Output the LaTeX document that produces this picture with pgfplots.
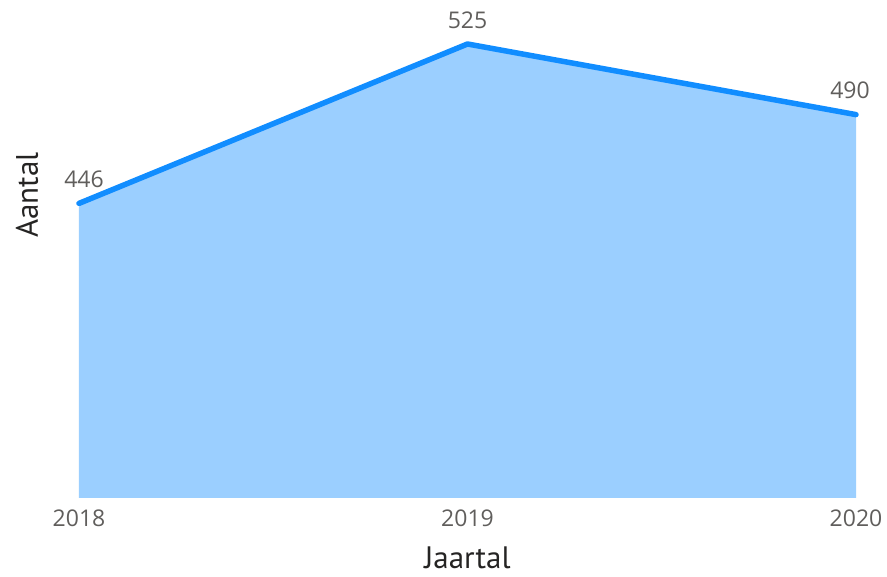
\documentclass[border=0pt]{standalone}
\usepackage{fontspec}
\setmainfont{Open Sans}
\newfontfamily\titlefont{PT Sans}
\usepackage{pgfplots}
\pgfplotsset{compat=1.18}
\definecolor{lineblue}{HTML}{118DFF}
\definecolor{fillblue}{HTML}{9BCFFF}
\definecolor{labgrey}{HTML}{605E5C}
\definecolor{titlegrey}{HTML}{252423}
\begin{document}
\begin{tikzpicture}[x=1pt,y=1pt]
\useasboundingbox (0,0) rectangle (887,577);
\begin{axis}[
  at={(79pt,79pt)}, anchor=south west,
  scale only axis, width=777pt, height=454pt,
  xmin=2018, xmax=2020, ymin=300, ymax=525,
  clip=false,
  axis line style={draw=none},
  major tick length=0pt,
  ytick=\empty,
  xtick={2018,2019,2020},
  /pgf/number format/assume math mode=true,
  xticklabel style={font=\fontsize{23}{27}\selectfont, text=labgrey, /pgf/number format/1000 sep={}, yshift=-8pt},
  xlabel={Jaartal}, ylabel={Aantal},
  xlabel style={font=\titlefont\fontsize{31}{36}\selectfont, text=titlegrey, at={(rel axis cs:0.5,-0.132)}, anchor=center},
  ylabel style={font=\titlefont\fontsize{31}{36}\selectfont, text=titlegrey, at={(rel axis cs:-0.067,0.667)}, anchor=center, rotate=0},
  lab/.style={draw=none, mark=none, nodes near coords, point meta=explicit symbolic,
    every node near coord/.style={anchor=center, yshift=24pt, xshift=#1, font=\fontsize{23}{27}\selectfont, text=labgrey}},
]
\addplot[fill=fillblue, draw=none] coordinates {(2018,300) (2018,446) (2019,525) (2020,490) (2020,300)} -- cycle;
\addplot[color=lineblue, line width=5.5pt, line cap=round, line join=round]
  coordinates {(2018,446) (2019,525) (2020,490)};
\addplot[lab=5pt] coordinates {(2018,446) [446]};
\addplot[lab=0pt] coordinates {(2019,525) [525]};
\addplot[lab=-6pt] coordinates {(2020,490) [490]};
\end{axis}
\end{tikzpicture}
\end{document}
